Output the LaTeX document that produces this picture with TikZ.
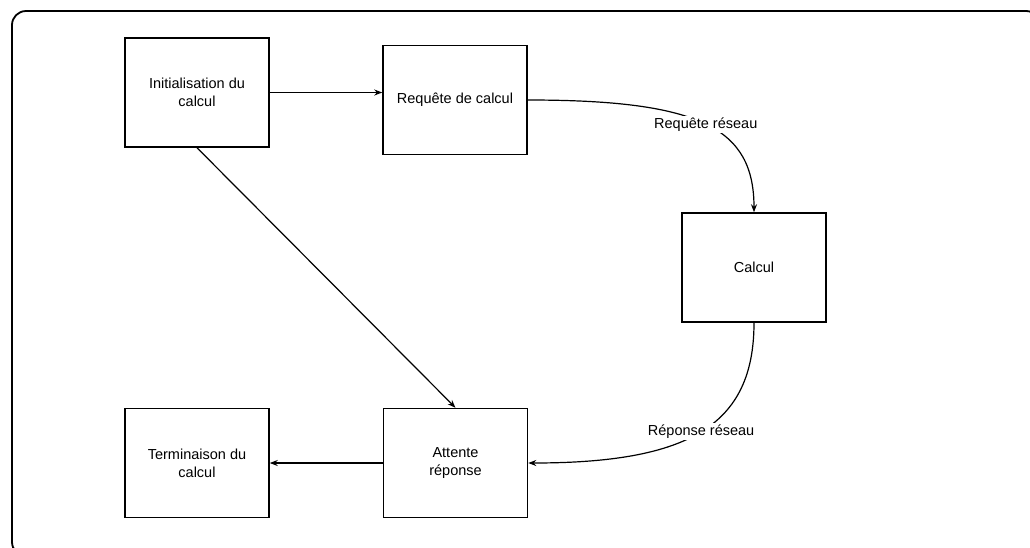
\documentclass[tikz,border=0pt]{standalone}
\usepackage{fontspec}
\setmainfont{Liberation Sans}
\usetikzlibrary{arrows.meta}
\begin{document}
\begin{tikzpicture}[x=1pt,y=-1pt,
  state/.style={draw=black, line width=1.5pt, fill=white, minimum width=144pt,
    minimum height=109pt, align=center, inner sep=2pt, font=\fontsize{14.5}{18}\selectfont},
  flow/.style={draw=black, line width=1.2pt, -{Stealth[length=8pt,width=6pt]}},
  edgelabel/.style={fill=white, inner sep=2pt, font=\fontsize{14.5}{17}\selectfont}]
  \useasboundingbox (0,0) rectangle (1030,547);
  \clip (0,0) rectangle (1030,547);
  % outer frame
  \draw[line width=1.8pt, rounded corners=14pt] (12,11) rectangle (1040,556);

  % states
  \node[state] (init) at (197,92.5) {Initialisation du\\calcul};
  \node[state] (req)  at (455,100) {Requête de calcul};
  \node[state] (calc) at (754,267.5) {Calcul};
  \node[state] (term) at (197,463) {Terminaison du\\calcul};
  \node[state] (att)  at (455.5,463) {Attente\\réponse};

  % transitions
  \draw[flow] (init.east) -- (init.east -| req.west);
  \draw[flow] (req.east) .. controls +(173,0) and +(0,-84) .. (calc.north)
    node[edgelabel, pos=0.5] (lreq) {Requête réseau};
  \draw[flow] (calc.south) .. controls +(0,103) and +(160,0) .. (att.east)
    node[edgelabel, pos=0.5] (lrep) {Réponse réseau};
  \draw[flow] (init.south) -- (att.north);
  \draw[flow] (att.west) -- (term.east);
\end{tikzpicture}
\end{document}
